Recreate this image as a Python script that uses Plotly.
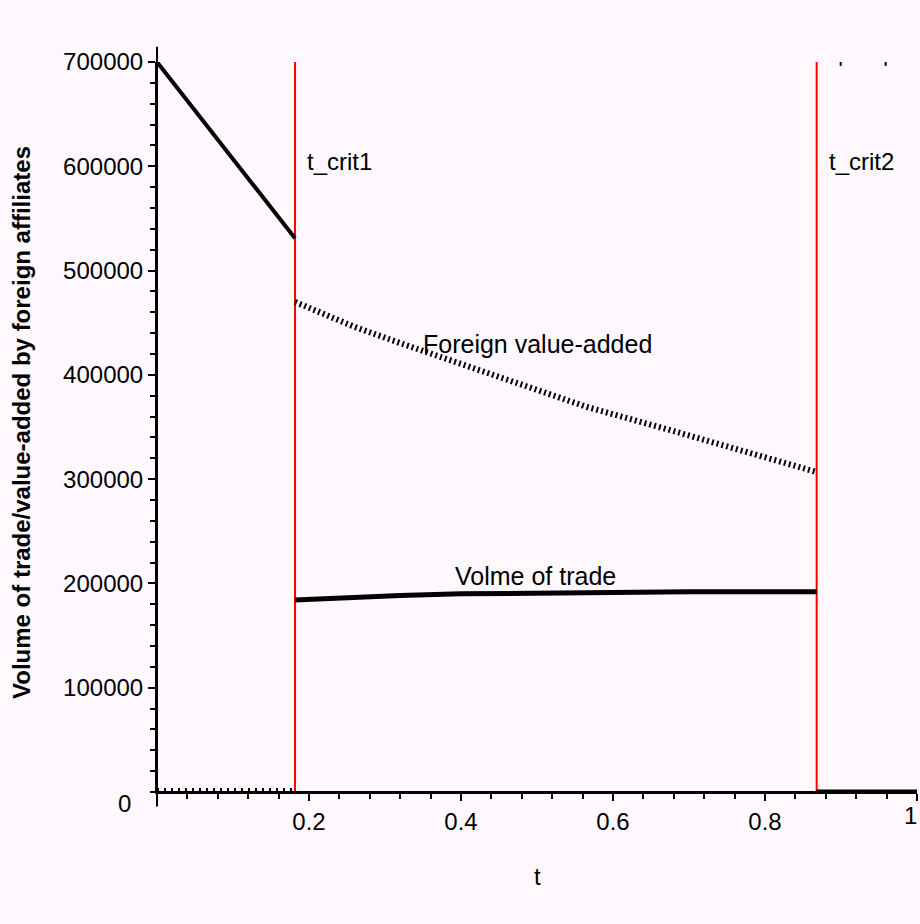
import plotly.graph_objects as go

# ---- data ----
t_crit = [0.1816, 0.868]
crit_labels = ["t_crit1", "t_crit2"]
crit_top = 700000

phase1_t = [0.0, 0.1816]
phase1_v = [700000, 531000]

fva_t = [0.1816, 0.2600, 0.3197, 0.3460, 0.4421, 0.5658, 0.6800, 0.7970, 0.8680]
fva_v = [469900, 446000, 430500, 423800, 399900, 369200, 346000, 321200, 306800]

vol_t = [0.1816, 0.25, 0.32, 0.40, 0.50, 0.60, 0.70, 0.80, 0.868]
vol_v = [184000, 186500, 188500, 190000, 191000, 191700, 192000, 192000, 192000]

zero_pre_t = [0.0, 0.1816]
zero_pre_v = [0, 0]
zero_post_t = [0.868, 1.0]
zero_post_v = [0, 0]

mark_t = [0.8996, 0.9588]
mark_v = [701000, 701000]

x_ticks = [0.2, 0.4, 0.6, 0.8, 1.0]
x_ticktext = ["0.2", "0.4", "0.6", "0.8", ""]
x_last_label = "1"
y_ticks = [100000, 200000, 300000, 400000, 500000, 600000, 700000]
y_ticktext = ["100000", "200000", "300000", "400000", "500000", "600000", "700000"]

FONT = "Liberation Sans, Arial, sans-serif"
BG = "#fff8fe"

fig = go.Figure()

# red critical lines
for tc in t_crit:
    fig.add_trace(go.Scatter(x=[tc, tc], y=[0, crit_top], mode="lines",
                             line=dict(color="#ff0000", width=2), hoverinfo="skip"))

fig.add_trace(go.Scatter(x=phase1_t, y=phase1_v, mode="lines",
                         line=dict(color="black", width=4)))
fig.add_trace(go.Scatter(x=fva_t, y=fva_v, mode="lines",
                         line=dict(color="black", width=6, dash="2px,3px")))
fig.add_trace(go.Scatter(x=vol_t, y=vol_v, mode="lines",
                         line=dict(color="black", width=5)))
fig.add_trace(go.Scatter(x=zero_pre_t, y=zero_pre_v, mode="lines",
                         line=dict(color="black", width=8, dash="2px,5px")))
fig.add_trace(go.Scatter(x=zero_post_t, y=zero_post_v, mode="lines",
                         line=dict(color="black", width=5)))
fig.add_trace(go.Scatter(x=mark_t, y=mark_v, mode="markers",
                         marker=dict(symbol="line-ns", size=7,
                                     line=dict(color="black", width=2))))

# axis line extensions (crossing marks at origin)
fig.add_shape(type="line", xref="paper", yref="paper",
              x0=0, x1=0, y0=-0.020, y1=1.021, line=dict(color="black", width=2))
fig.add_shape(type="line", xref="paper", yref="paper",
              x0=-0.009, x1=1.0, y0=0, y1=0, line=dict(color="black", width=2))

annotations = []
for tc, lab in zip(t_crit, crit_labels):
    annotations.append(dict(x=tc, y=(792 - 161) / 730 * 700000, xref="x", yref="y", text=lab,
                            showarrow=False, xanchor="left", yanchor="middle",
                            xshift=10,
                            font=dict(family=FONT, size=24, color="black")))
annotations.append(dict(x=(537.5 - 157) / 760, y=(792 - 344) / 730 * 700000,
                        xref="x", yref="y", text="Foreign value-added",
                        xanchor="center", yanchor="middle",
                        showarrow=False, font=dict(family=FONT, size=25, color="black")))
annotations.append(dict(x=(535.5 - 157) / 760, y=(792 - 576) / 730 * 700000,
                        xref="x", yref="y", text="Volme of trade",
                        xanchor="center", yanchor="middle",
                        showarrow=False, font=dict(family=FONT, size=25, color="black")))
annotations.append(dict(x=0, y=0, xref="paper", yref="y", text="0",
                        showarrow=False, xanchor="right", yanchor="middle",
                        xshift=-24, yshift=-11,
                        font=dict(family=FONT, size=24, color="black")))
annotations.append(dict(x=x_ticks[-1], y=0, xref="x", yref="y", text=x_last_label,
                        showarrow=False, xanchor="right", yanchor="middle",
                        xshift=2, yshift=-23,
                        font=dict(family=FONT, size=24, color="black")))
annotations.append(dict(x=0.5, y=(792 - 876) / 730, xref="paper", yref="paper", text="t",
                        xanchor="center", yanchor="middle",
                        showarrow=False, font=dict(family=FONT, size=24, color="black")))
annotations.append(dict(x=(21 - 157) / 760, y=(792 - 423) / 730, xref="paper", yref="paper",
                        text="<b>Volume of trade/value-added by foreign affiliates</b>",
                        xanchor="center", yanchor="middle",
                        textangle=-90, showarrow=False,
                        font=dict(family=FONT, size=24, color="black")))

fig.update_layout(
    width=920, height=924,
    margin=dict(l=157, r=3, t=62, b=132, autoexpand=False),
    paper_bgcolor=BG, plot_bgcolor=BG,
    showlegend=False,
    annotations=annotations,
    font=dict(family=FONT, size=24, color="black"),
    xaxis=dict(range=[0, 1], showgrid=False, zeroline=False,
               showline=True, linecolor="black", linewidth=2,
               ticks="outside", ticklen=7, tickwidth=2, tickcolor="black",
               tickvals=x_ticks, ticktext=x_ticktext,
               tickfont=dict(family=FONT, size=24, color="black"),
               minor=dict(tick0=0, dtick=0.04, ticks="outside", ticklen=5,
                          tickwidth=2, tickcolor="black"),
               automargin=False),
    yaxis=dict(range=[0, 700000], showgrid=False, zeroline=False,
               showline=True, linecolor="black", linewidth=2,
               ticks="outside", ticklen=7, tickwidth=2, tickcolor="black",
               tickvals=y_ticks, ticktext=y_ticktext,
               tickfont=dict(family=FONT, size=24, color="black"),
               minor=dict(tick0=0, dtick=20000, ticks="outside", ticklen=5,
                          tickwidth=2, tickcolor="black"),
               automargin=False),
)

fig.write_html(
    "out.html",
    config={"displayModeBar": False},
    post_script="document.body.style.margin='0px';document.body.style.background='" + BG + "';",
)
